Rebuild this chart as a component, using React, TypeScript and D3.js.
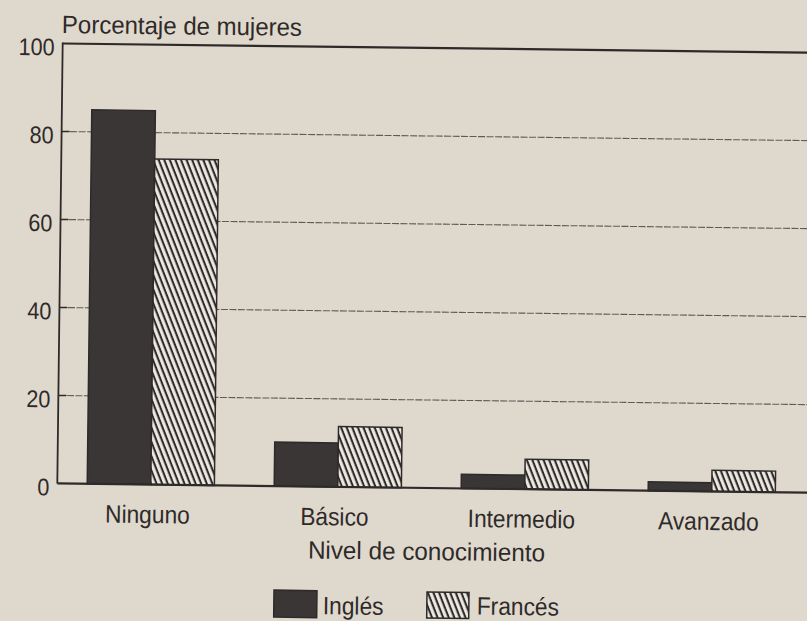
import * as d3 from 'd3';

const categories = ['Ninguno', 'Básico', 'Intermedio', 'Avanzado'];
const ingles = [85, 10, 3.2, 2];
const frances = [74, 13.7, 6.8, 4.8];
const yTicks = [0, 20, 40, 60, 80, 100];
const legendLabels = ['Inglés', 'Francés'];

const W = 807;
const H = 621;
const left = 60;
const top = 48;
const bottom = 488;
const ink = '#2e2a2a';
const paper = '#dfd8cc';
const dark = '#3b3636';

// the scan is slightly tilted, so the whole chart is turned a little
const tilt = 'rotate(0.7 430 265)';

function Label({ x, y, size = 25, anchor = 'start', sx = 0.91, children }: any) {
  return (
    <text transform={`translate(${x},${y}) scale(${sx},1)`} textAnchor={anchor} fontSize={size}>
      {children}
    </text>
  );
}

export default function App() {
  const x = d3.scaleBand<string>()
    .domain(categories)
    .range([left, left + 4 * 187])
    .paddingInner(0.32)
    .paddingOuter(0.16);
  const y = d3.scaleLinear().domain([0, 100]).range([bottom, top]);
  const bw = x.bandwidth() / 2;

  return (
    <svg width={W} height={H} style={{ position: 'absolute', left: 0, top: 0, background: paper }}
      fontFamily='"Liberation Sans", Arial, sans-serif' fill={ink}>
      <defs>
        <pattern id="hatch" width={5.2} height={10} patternUnits="userSpaceOnUse"
          patternTransform="rotate(-22)">
          <rect width={5.2} height={10} fill="#eeeae2" />
          <line x1={1.6} y1={0} x2={1.6} y2={10} stroke={ink} strokeWidth={2.1} />
        </pattern>
      </defs>
      <rect width={W} height={H} fill={paper} />
      <g transform={tilt}>
        {/* gridlines and inner ticks */}
        {yTicks.filter(t => t > 0 && t < 100).map(t => (
          <g key={t}>
            <line x1={left} x2={W + 30} y1={y(t)} y2={y(t)}
              stroke="#4a4545" strokeWidth={1.1} strokeDasharray="7 1.5" opacity={0.85} />
            <line x1={left} x2={left + 8} y1={y(t)} y2={y(t)} stroke={ink} strokeWidth={1.5} />
          </g>
        ))}
        {/* frame */}
        <line x1={left} x2={W + 30} y1={y(100)} y2={y(100)} stroke={ink} strokeWidth={2.2} />
        <line x1={left} x2={left} y1={y(100) - 1} y2={y(0)} stroke={ink} strokeWidth={1.8} />
        {/* tick labels */}
        {yTicks.map(t => (
          <Label key={t} x={left - 8} y={y(t) + 12} size={24} anchor="end" sx={0.9}>{t}</Label>
        ))}
        <Label x={left - 1} y={37.5} sx={0.96}>Porcentaje de mujeres</Label>
        {/* bars */}
        {categories.map((c, i) => (
          <g key={c}>
            <rect x={x(c)!} y={y(ingles[i])} width={bw} height={y(0) - y(ingles[i])}
              fill={dark} stroke={ink} strokeWidth={1.5} />
            <rect x={x(c)! + bw} y={y(frances[i])} width={bw} height={y(0) - y(frances[i])}
              fill="url(#hatch)" stroke={ink} strokeWidth={1.5} />
            <Label x={x(c)! + bw - 3} y={526.5} anchor="middle">{c}</Label>
          </g>
        ))}
        <line x1={left} x2={W + 30} y1={y(0)} y2={y(0)} stroke={ink} strokeWidth={2.2} />
        <Label x={430} y={560} anchor="middle" sx={0.97}>Nivel de conocimiento</Label>
        {/* legend */}
        <rect x={278} y={592} width={43} height={27} fill={dark} stroke={ink} strokeWidth={1.5} />
        <Label x={327} y={615.5}>{legendLabels[0]}</Label>
        <rect x={431} y={592} width={42} height={26} fill="url(#hatch)" stroke={ink} strokeWidth={1.5} />
        <Label x={481} y={614}>{legendLabels[1]}</Label>
      </g>
    </svg>
  );
}
